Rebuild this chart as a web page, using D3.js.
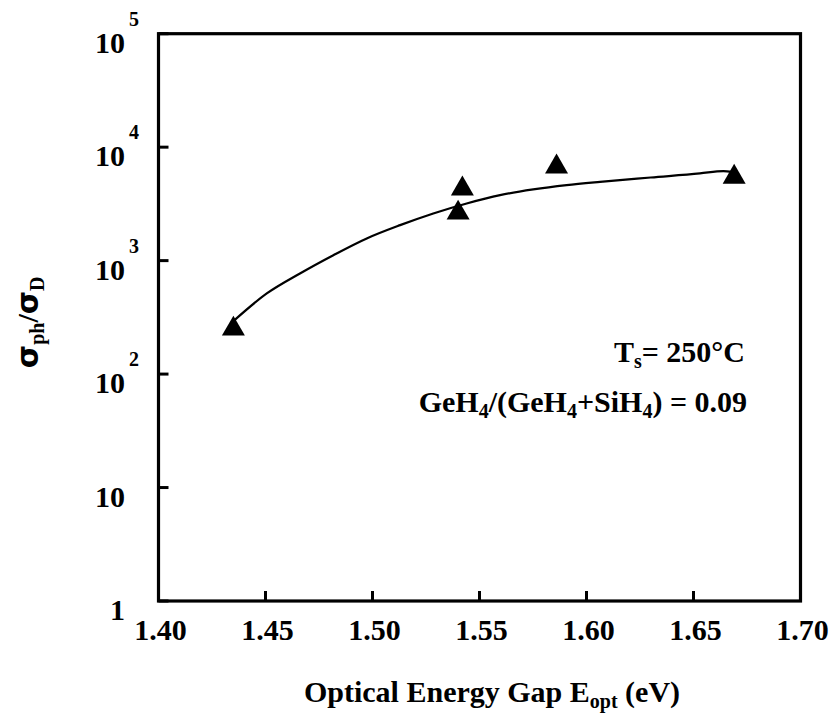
<!DOCTYPE html>
<html>
<head>
<meta charset="utf-8">
<script src="https://cdn.jsdelivr.net/npm/d3@7/dist/d3.min.js"></script>
</head>
<body style="margin:0">
<svg id="chart" width="833" height="713" style="display:block"></svg>
<script>
// Measured samples: optical gap (eV) vs photo/dark conductivity ratio
const gapEV = [1.435, 1.542, 1.540, 1.586, 1.669];
const ratio = [250, 4300, 2630, 6700, 5450];

// Smooth fitted trend through the samples
const fitEV    = [1.435, 1.4506, 1.4661, 1.4817, 1.4973, 1.5129, 1.5284, 1.5440, 1.5596, 1.5751, 1.5907, 1.6063, 1.6300, 1.6530, 1.6640, 1.6680];
const fitRatio = [293, 514, 771, 1117, 1570, 2056, 2606, 3190, 3776, 4238, 4627, 4946, 5400, 5866, 6150, 6050];

const xTicks = [1.40, 1.45, 1.50, 1.55, 1.60, 1.65, 1.70];
const xTickLabels = ["1.40", "1.45", "1.50", "1.55", "1.60", "1.65", "1.70"];
const yTicks = [1, 10, 100, 1000, 10000, 100000];
const yTickBase = ["1", "10", "10", "10", "10", "10"];
const yTickExp = ["", "", "2", "3", "4", "5"];

const svg = d3.select("#chart");
const pLeft = 158.5, pRight = 800.5, pTop = 33.7, pBottom = 601;

const x = d3.scaleLinear().domain([1.40, 1.70]).range([pLeft, pRight]);
const y = d3.scaleLog().domain([1, 1e5]).range([pBottom, pTop]);

// Plot frame
svg.append("rect")
  .attr("x", pLeft).attr("y", pTop)
  .attr("width", pRight - pLeft).attr("height", pBottom - pTop)
  .attr("fill", "none").attr("stroke", "#000").attr("stroke-width", 3.2);

// Inward ticks (drawn as plain lines from the scales)
svg.append("g").selectAll("line").data(xTicks).join("line")
  .attr("x1", d => x(d)).attr("x2", d => x(d))
  .attr("y1", pBottom).attr("y2", pBottom - 10)
  .attr("stroke", "#000").attr("stroke-width", 3);
svg.append("g").selectAll("line").data(yTicks).join("line")
  .attr("x1", pLeft).attr("x2", pLeft + 10)
  .attr("y1", d => y(d)).attr("y2", d => y(d))
  .attr("stroke", "#000").attr("stroke-width", 3);

// Bold serif text
function label(size) {
  return svg.append("text")
    .attr("font-family", "Liberation Serif")
    .style("font-family", "'Liberation Serif'")
    .style("font-weight", "bold")
    .attr("font-size", size);
}

// X tick labels
xTicks.forEach((d, i) => {
  label(30).attr("x", x(d) + 2).attr("y", pBottom + 39)
    .attr("text-anchor", "middle").text(xTickLabels[i]);
});

// Y tick labels with exponents
yTicks.forEach((d, i) => {
  label(30).attr("x", 125).attr("y", y(d) + 19)
    .attr("text-anchor", "end").text(yTickBase[i]);
  if (yTickExp[i]) {
    label(20).attr("x", 129).attr("y", y(d) - 8).text(yTickExp[i]);
  }
});

// Fitted curve
svg.append("path")
  .datum(fitEV.map((v, i) => [v, fitRatio[i]]))
  .attr("fill", "none").attr("stroke", "#000").attr("stroke-width", 2.2)
  .attr("d", d3.line().x(d => x(d[0])).y(d => y(d[1])).curve(d3.curveMonotoneX));

// Triangle markers
svg.append("g").selectAll("path").data(gapEV).join("path")
  .attr("transform", (d, i) => `translate(${x(d)},${y(ratio[i])})`)
  .attr("d", d3.symbol().type(d3.symbolTriangle).size(229))
  .attr("fill", "#000");

// Annotations
const a1 = label(30).attr("x", 745).attr("y", 361.7).attr("text-anchor", "end");
a1.append("tspan").text("T");
a1.append("tspan").attr("font-size", 20).attr("dy", 6).text("s");
a1.append("tspan").attr("dy", -6).text("= 250°C");

const a2 = label(30).attr("x", 747).attr("y", 411.7).attr("text-anchor", "end");
a2.append("tspan").text("GeH");
a2.append("tspan").attr("font-size", 20).attr("dy", 6).text("4");
a2.append("tspan").attr("dy", -6).text("/(GeH");
a2.append("tspan").attr("font-size", 20).attr("dy", 6).text("4");
a2.append("tspan").attr("dy", -6).text("+SiH");
a2.append("tspan").attr("font-size", 20).attr("dy", 6).text("4");
a2.append("tspan").attr("dy", -6).text(") = 0.09");

// X axis title
const xt = label(30).attr("x", 492).attr("y", 702).attr("text-anchor", "middle");
xt.append("tspan").text("Optical Energy Gap E");
xt.append("tspan").attr("font-size", 20).attr("dy", 6).text("opt");
xt.append("tspan").attr("dy", -6).text(" (eV)");

// Y axis title (rotated)
const yt = label(30)
  .attr("transform", `translate(38,${(pTop + pBottom) / 2 + 5}) rotate(-90)`)
  .attr("text-anchor", "middle");
yt.append("tspan").style("font-family", "'DejaVu Sans'").text("σ");
yt.append("tspan").attr("font-size", 20).attr("dy", 6).text("ph");
yt.append("tspan").attr("dy", -6).text("/");
yt.append("tspan").style("font-family", "'DejaVu Sans'").text("σ");
yt.append("tspan").attr("font-size", 20).attr("dy", 6).text("D");
</script>
</body>
</html>
